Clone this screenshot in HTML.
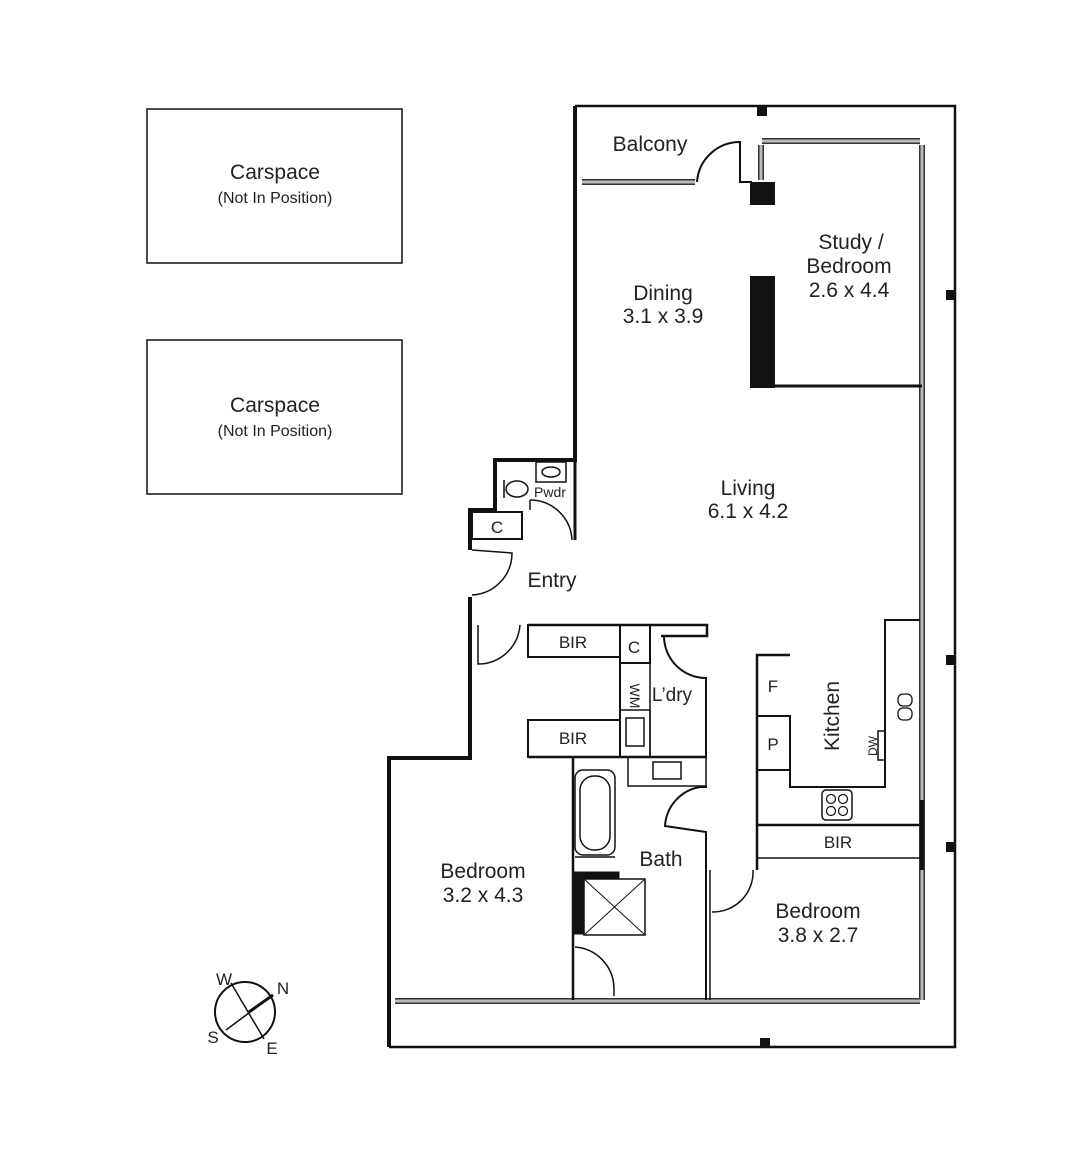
<!DOCTYPE html>
<html><head><meta charset="utf-8"><style>
html,body{margin:0;padding:0;background:#fff;}
svg{display:block;}
text{font-family:"Liberation Sans",sans-serif;fill:#222;}
</style></head><body>
<svg width="1080" height="1153" viewBox="0 0 1080 1153" xmlns="http://www.w3.org/2000/svg">
<g fill="none" stroke="#111">
<rect x="147" y="109" width="255" height="154" stroke-width="1.5"/>
<rect x="147" y="340" width="255" height="154" stroke-width="1.5"/>
<polyline points="575,106 955,106 955,1047 389,1047" stroke-width="2.5"/>
<polyline points="575,106 575,460 495,460 495,510 470,510 470,550" stroke-width="4"/>
<polyline points="470,597 470,758 389,758 389,1047" stroke-width="4"/>
<g stroke="#333" stroke-width="6"><line x1="582" y1="182" x2="695" y2="182"/><line x1="762" y1="141" x2="920" y2="141"/><line x1="761" y1="145" x2="761" y2="180"/><line x1="922" y1="145" x2="922" y2="1000"/><line x1="395" y1="1001" x2="920" y2="1001"/></g>
<g stroke="#bbb" stroke-width="3"><line x1="582" y1="182" x2="695" y2="182"/><line x1="762" y1="141" x2="920" y2="141"/><line x1="761" y1="145" x2="761" y2="180"/><line x1="922" y1="145" x2="922" y2="1000"/><line x1="395" y1="1001" x2="920" y2="1001"/></g>
<path d="M697,182 A43,43 0 0 1 740,142 L740,182 L752,182" stroke-width="2"/>
<line x1="775" y1="386" x2="922" y2="386" stroke-width="3"/>
<polyline points="575,460 575,540" stroke-width="3"/>
<rect x="536" y="462" width="30" height="20" stroke-width="1.5"/>
<ellipse cx="551" cy="472" rx="9" ry="5" stroke-width="1.5"/>
<ellipse cx="517" cy="489" rx="11" ry="8" stroke-width="1.5"/>
<line x1="504" y1="480" x2="504" y2="498" stroke-width="1.5"/>
<path d="M530,500 A42,42 0 0 1 572,540" stroke-width="1.5"/>
<line x1="530" y1="500" x2="530" y2="510" stroke-width="1.5"/>
<rect x="472" y="512" width="50" height="27" stroke-width="2"/>
<path d="M472,550 L512,553 A42,42 0 0 1 472,595" stroke-width="1.5"/>
<path d="M478,625 L478,664 A42,42 0 0 0 520,625" stroke-width="1.5"/>
<polyline points="528,625 707,625 707,636 661,636" stroke-width="2.5"/>
<rect x="528" y="625" width="92" height="32" stroke-width="2"/>
<rect x="620" y="625" width="30" height="38" stroke-width="2"/>
<rect x="528" y="720" width="92" height="37" stroke-width="2"/>
<line x1="620" y1="625" x2="620" y2="757" stroke-width="2"/>
<line x1="650" y1="663" x2="650" y2="757" stroke-width="1.5"/>
<rect x="620" y="710" width="30" height="47" stroke-width="1.5"/>
<rect x="626" y="718" width="18" height="28" stroke-width="1.5"/>
<path d="M664,636 A42,42 0 0 0 706,678 L706,757" stroke-width="2"/>
<line x1="528" y1="757" x2="707" y2="757" stroke-width="2.5"/>
<line x1="573" y1="757" x2="573" y2="1000" stroke-width="2.5"/>
<rect x="628" y="757" width="78" height="29" stroke-width="1.5"/>
<rect x="653" y="762" width="28" height="17" stroke-width="1.5"/>
<rect x="575" y="770" width="40" height="85" rx="8" stroke-width="1.5"/>
<rect x="580" y="776" width="30" height="74" rx="14" stroke-width="1.5"/>
<line x1="575" y1="857" x2="615" y2="857" stroke-width="1.5"/>
<rect x="574" y="872" width="10" height="62" fill="#111"/>
<rect x="574" y="872" width="45" height="6" fill="#111"/>
<rect x="584" y="879" width="61" height="56" stroke-width="1.5"/>
<line x1="584" y1="879" x2="645" y2="935" stroke-width="1"/>
<line x1="645" y1="879" x2="584" y2="935" stroke-width="1"/>
<path d="M575,947 A42,42 0 0 1 614,988 L614,996" stroke-width="1.5"/>
<path d="M706,786 L706,787 L700,787 A42,42 0 0 0 665,826 L706,832 L706,1000" stroke-width="2"/>
<line x1="710" y1="870" x2="710" y2="1000" stroke-width="1.5"/>
<path d="M712,912 A40,40 0 0 0 753,870" stroke-width="1.5"/>
<polyline points="790,655 757,655 757,870" stroke-width="2.5"/>
<rect x="757" y="716" width="33" height="54" stroke-width="2"/>
<polyline points="790,716 790,787 885,787 885,620 920,620" stroke-width="2"/>
<rect x="822" y="790" width="30" height="30" rx="4" stroke-width="1.5"/>
<circle cx="831" cy="799" r="4.5" stroke-width="1.2"/><circle cx="843" cy="799" r="4.5" stroke-width="1.2"/>
<circle cx="831" cy="811" r="4.5" stroke-width="1.2"/><circle cx="843" cy="811" r="4.5" stroke-width="1.2"/>
<rect x="878" y="731" width="7" height="29" stroke-width="1.5"/>
<rect x="898" y="694" width="14" height="12" rx="5" stroke-width="1.3"/>
<rect x="898" y="708" width="14" height="12" rx="5" stroke-width="1.3"/>
<line x1="757" y1="825" x2="920" y2="825" stroke-width="2.5"/>
<line x1="757" y1="858" x2="920" y2="858" stroke-width="1.5"/>
<line x1="922" y1="800" x2="922" y2="870" stroke-width="4"/>
<circle cx="245" cy="1012" r="30" stroke-width="2"/>
<line x1="231" y1="983" x2="264" y2="1039" stroke-width="1.5"/>
<line x1="226" y1="1030" x2="273" y2="995" stroke-width="1.5"/>
<line x1="249" y1="1012" x2="273" y2="995" stroke-width="3"/>
</g>
<g fill="#111">
<rect x="750" y="182" width="25" height="23"/>
<rect x="750" y="276" width="25" height="112"/>
<rect x="757" y="106" width="10" height="10"/>
<rect x="946" y="290" width="10" height="10"/>
<rect x="946" y="655" width="10" height="10"/>
<rect x="946" y="842" width="10" height="10"/>
<rect x="760" y="1038" width="10" height="10"/>
</g>
<g font-size="21" text-anchor="middle">
<text x="275" y="179">Carspace</text>
<text x="275" y="203" font-size="16">(Not In Position)</text>
<text x="275" y="412">Carspace</text>
<text x="275" y="436" font-size="16">(Not In Position)</text>
<text x="650" y="151">Balcony</text>
<text x="663" y="300">Dining</text>
<text x="663" y="323">3.1 x 3.9</text>
<text x="851" y="249">Study /</text>
<text x="849" y="273">Bedroom</text>
<text x="849" y="297">2.6 x 4.4</text>
<text x="748" y="495">Living</text>
<text x="748" y="518">6.1 x 4.2</text>
<text x="552" y="587">Entry</text>
<text x="483" y="878">Bedroom</text>
<text x="483" y="902">3.2 x 4.3</text>
<text x="661" y="866">Bath</text>
<text x="818" y="918">Bedroom</text>
<text x="818" y="942">3.8 x 2.7</text>
<text x="672" y="701" font-size="19">L’dry</text>
<text x="573" y="648" font-size="17">BIR</text>
<text x="573" y="744" font-size="17">BIR</text>
<text x="838" y="848" font-size="17">BIR</text>
<text x="634" y="653" font-size="17">C</text>
<text x="497" y="533" font-size="17">C</text>
<text x="550" y="497" font-size="14">Pwdr</text>
<text x="773" y="692" font-size="17">F</text>
<text x="773" y="750" font-size="17">P</text>
<text x="839" y="716" transform="rotate(-90 839 716)">Kitchen</text>
<text x="877" y="746" font-size="12" transform="rotate(-90 877 746)">DW</text>
<text x="638" y="688" font-size="14" transform="rotate(90 630 688)">WM</text>
<text x="224" y="985" font-size="17">W</text>
<text x="283" y="994" font-size="17">N</text>
<text x="213" y="1043" font-size="17">S</text>
<text x="272" y="1054" font-size="17">E</text>
</g>
</svg>
</body></html>
